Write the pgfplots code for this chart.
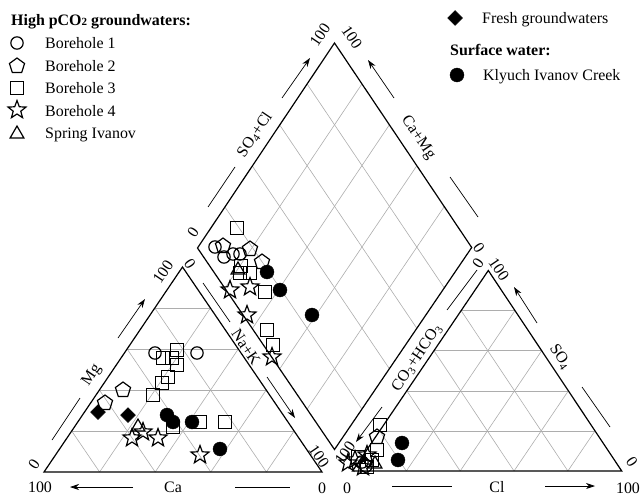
\documentclass[border=0pt]{standalone}
\usepackage{fontspec}
\setmainfont{Liberation Serif}
\usepackage{pgfplots}
\pgfplotsset{compat=1.18}
\usetikzlibrary{arrows.meta,calc}
\newdimen\starr
\pgfdeclareplotmark{ostar}{%
  \starr=0.42\pgfplotmarksize
  \pgfpathmoveto{\pgfqpointpolar{90}{\pgfplotmarksize}}%
  \pgfpathlineto{\pgfqpointpolar{126}{\starr}}%
  \pgfpathlineto{\pgfqpointpolar{162}{\pgfplotmarksize}}%
  \pgfpathlineto{\pgfqpointpolar{198}{\starr}}%
  \pgfpathlineto{\pgfqpointpolar{234}{\pgfplotmarksize}}%
  \pgfpathlineto{\pgfqpointpolar{270}{\starr}}%
  \pgfpathlineto{\pgfqpointpolar{306}{\pgfplotmarksize}}%
  \pgfpathlineto{\pgfqpointpolar{342}{\starr}}%
  \pgfpathlineto{\pgfqpointpolar{18}{\pgfplotmarksize}}%
  \pgfpathlineto{\pgfqpointpolar{54}{\starr}}%
  \pgfpathclose
  \pgfusepathqstroke}
\newcommand{\tf}{\fontsize{16}{19}\selectfont}
\tikzset{
  grd/.style={draw=black!32,line width=0.6pt},
  frm/.style={draw=black,line width=1.2pt},
  lab/.style={font=\tf,inner sep=0pt},
  arr/.style={line width=0.7pt,-{Stealth[length=9pt,width=6pt]}},
  lin/.style={line width=0.7pt},
}
\pgfplotsset{
  bh1/.style={only marks,mark=o,mark size=6.2,mark options={line width=1.2pt}},
  bh2/.style={only marks,mark=pentagon,mark size=8,mark options={line width=1.2pt}},
  bh3/.style={only marks,mark=square,mark size=6.2,mark options={line width=1.2pt}},
  bh4/.style={only marks,mark=ostar,mark size=9.5,mark options={line width=1.2pt}},
  spr/.style={only marks,mark=triangle,mark size=8,mark options={line width=1.2pt}},
  frs/.style={only marks,mark=square*,mark size=5.3,mark options={rotate=45,fill=black}},
  crk/.style={only marks,mark=*,mark size=7,mark options={fill=black}},
}
\begin{document}
\begin{tikzpicture}
\begin{axis}[width=641bp,height=495bp,scale only axis,
  xmin=0,xmax=641,ymin=0,ymax=495,y dir=reverse,hide axis,clip=false]
% geometry
\coordinate (A) at (axis cs:44,472);
\coordinate (B) at (axis cs:322,472);
\coordinate (C) at (axis cs:182.5,267);
\coordinate (D) at (axis cs:352.5,471);
\coordinate (E) at (axis cs:621.7,471);
\coordinate (F) at (axis cs:488.3,270.5);
\coordinate (P) at (axis cs:334.5,449.5);
\coordinate (Q) at (axis cs:197.5,248);
\coordinate (R) at (axis cs:471.7,247.5);
\coordinate (T) at (axis cs:334.5,43);
\pgfplotsinvokeforeach{0.2,0.4,0.6,0.8}{%
  \draw[grd] ($(A)!#1!(C)$) -- ($(B)!#1!(C)$);
  \draw[grd] ($(A)!#1!(B)$) -- ($(C)!#1!(B)$);
  \draw[grd] ($(B)!#1!(A)$) -- ($(C)!#1!(A)$);
  \draw[grd] ($(D)!#1!(F)$) -- ($(E)!#1!(F)$);
  \draw[grd] ($(D)!#1!(E)$) -- ($(F)!#1!(E)$);
  \draw[grd] ($(E)!#1!(D)$) -- ($(F)!#1!(D)$);
  \draw[grd] ($(Q)!#1!(P)$) -- ($(T)!#1!(R)$);
  \draw[grd] ($(Q)!#1!(T)$) -- ($(P)!#1!(R)$);
}
\draw[frm] (A) -- (B) -- (C) -- cycle;
\draw[frm] (D) -- (E) -- (F) -- cycle;
\draw[frm] (P) -- (R) -- (T) -- (Q) -- cycle;
% axis annotations
\node[lab,rotate=56] at (axis cs:92,375) {Mg};
\draw[lin] (axis cs:52,440) -- (axis cs:80,398);
\draw[arr] (axis cs:118,338) -- (axis cs:145,299);
\node[lab] at (axis cs:173,487) {Ca};
\draw[arr] (axis cs:133,487) -- (axis cs:70,487);
\draw[lin] (axis cs:235,487) -- (axis cs:290,487);
\node[lab,rotate=-56] at (axis cs:246,347) {Na+K};
\draw[lin] (axis cs:203,283) -- (axis cs:230,322);
\draw[arr] (axis cs:267,377) -- (axis cs:295,418);
\node[lab,rotate=56] at (axis cs:255,135) {SO\textsubscript{4}+Cl};
\draw[lin] (axis cs:208,207) -- (axis cs:235,167);
\draw[arr] (axis cs:282,98) -- (axis cs:310,58);
\node[lab,rotate=-56] at (axis cs:418,138) {Ca+Mg};
\draw[arr] (axis cs:394,98) -- (axis cs:368,60);
\draw[lin] (axis cs:450,177) -- (axis cs:478,217);
\node[lab,rotate=56] at (axis cs:417,358) {CO\textsubscript{3}+HCO\textsubscript{3}};
\draw[lin] (axis cs:447,310) -- (axis cs:477,270);
\draw[arr] (axis cs:382,407) -- (axis cs:356,442);
\node[lab,rotate=-56] at (axis cs:560,357) {SO\textsubscript{4}};
\draw[arr] (axis cs:537,323) -- (axis cs:514,287);
\draw[lin] (axis cs:582,387) -- (axis cs:610,427);
\node[lab] at (axis cs:497,487) {Cl};
\draw[lin] (axis cs:392,486) -- (axis cs:452,486);
\draw[arr] (axis cs:545,486) -- (axis cs:595,486);
% scale numbers
\node[lab,rotate=56] at (axis cs:34,464) {0};
\node[lab,rotate=56] at (axis cs:163,272) {100};
\node[lab,rotate=-56] at (axis cs:190,264) {0};
\node[lab,rotate=-56] at (axis cs:319,456) {100};
\node[lab] at (axis cs:40,487) {100};
\node[lab] at (axis cs:322,488) {0};
\node[lab,rotate=56] at (axis cs:193,232) {0};
\node[lab,rotate=56] at (axis cs:320,35) {100};
\node[lab,rotate=-56] at (axis cs:352,37) {100};
\node[lab,rotate=-56] at (axis cs:479,248) {0};
\node[lab,rotate=56] at (axis cs:478,263) {0};
\node[lab,rotate=56] at (axis cs:345,453) {100};
\node[lab,rotate=-56] at (axis cs:499,269) {100};
\node[lab,rotate=-56] at (axis cs:632,462) {0};
\node[lab] at (axis cs:347,488) {0};
\node[lab] at (axis cs:628,488) {100};
% data
\addplot[bh3] coordinates {(177,350) (163,358) (172,358) (177,365) (168,377) (162,383) (153,395) (200,422) (225,422) (173,427)
  (237,228) (240,273) (250,273) (241,266) (265,292) (267,330) (273,345)
  (380,425) (377,450) (358,457) (367,467) (372,460)};
\addplot[bh1] coordinates {(155,353) (197,353)
  (215,247) (224,257) (233,254) (240,254)
  (362,462) (366,466)};
\addplot[bh2] coordinates {(123,390) (105,403)
  (223,246) (250,249) (262,262)
  (377,437)};
\addplot[bh4] coordinates {(132,438) (143,432) (158,438) (200,455)
  (230,290) (250,287) (247,315) (272,357)
  (348,463) (355,460) (363,467) (367,455)};
\addplot[spr] coordinates {(138,427) (238,270) (375,464)};
\addplot[frs] coordinates {(98,412) (128,415)};
\addplot[crk] coordinates {(167,415) (173,422) (192,422) (220,449)
  (267,272) (280,290) (312,315)
  (402,443) (398,460)};
% legend
\node[lab,anchor=base west] at (axis cs:11,25.5) {\textbf{High pCO\raisebox{-0.5pt}{\fontsize{11}{12}\selectfont 2} groundwaters:}};
\addplot[bh1] coordinates {(17,43)};
\addplot[bh2] coordinates {(17,66)};
\addplot[bh3] coordinates {(17,88)};
\addplot[bh4] coordinates {(17,110)};
\addplot[spr] coordinates {(17,134)};
\node[lab,anchor=base west] at (axis cs:45,49) {Borehole 1};
\node[lab,anchor=base west] at (axis cs:45,71.5) {Borehole 2};
\node[lab,anchor=base west] at (axis cs:45,93.5) {Borehole 3};
\node[lab,anchor=base west] at (axis cs:45,116) {Borehole 4};
\node[lab,anchor=base west] at (axis cs:45,138.5) {Spring Ivanov};
\addplot[frs] coordinates {(455,18)};
\node[lab,anchor=base west] at (axis cs:482,23.5) {Fresh groundwaters};
\node[lab,anchor=base west] at (axis cs:450,55.5) {\textbf{Surface water:}};
\addplot[crk] coordinates {(457,75)};
\node[lab,anchor=base west] at (axis cs:483,80.5) {Klyuch Ivanov Creek};
\end{axis}
\pgfresetboundingbox
\path[use as bounding box] (current axis.south west) rectangle (current axis.north east);
\end{tikzpicture}
\end{document}
